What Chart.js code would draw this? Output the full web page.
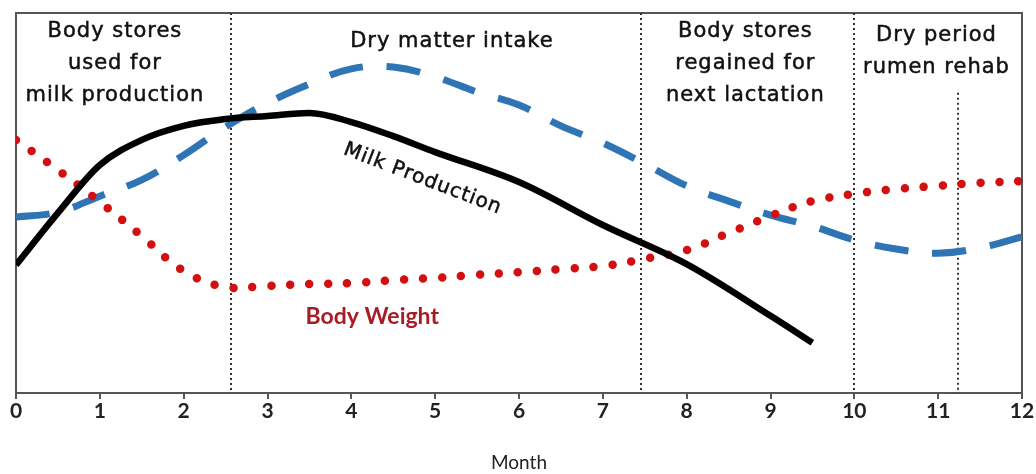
<!DOCTYPE html>
<html>
<head>
<meta charset="utf-8">
<script src="https://cdn.jsdelivr.net/npm/chart.js@4"></script>
<style>
  html, body { margin: 0; padding: 0; background: #fff; overflow: hidden; }
  #wrap { position: relative; width: 1036px; height: 474px; }
</style>
</head>
<body>
<div id="wrap"><canvas id="graficoLactacao"></canvas></div>
<script>
// meses do eixo x
var mesesMilk = [0, 0.5, 1, 1.5, 2, 2.5, 3, 3.5, 4, 4.5, 5, 6, 7, 8, 9, 9.5];
var milkProduction = [33.7, 47.4, 60, 66.6, 70.3, 72.1, 72.9, 73.7, 71.3, 67.6, 63.4, 55.5, 44.2, 33.9, 20.3, 13.2];

var mesesCurva = [0, 0.5, 1, 1.5, 2, 2.5, 3, 3.5, 4, 4.5, 5, 5.5, 6, 6.5, 7, 7.5, 8, 8.5, 9, 9.5, 10, 10.5, 11, 11.5, 12];
var dryMatterIntake = [46.3, 47.6, 51.8, 56.1, 62.6, 70.0, 76.3, 81.3, 85.3, 85.8, 83.2, 79.2, 75.8, 70.3, 65.8, 60.3, 54.5, 50.5, 46.8, 43.9, 40.3, 37.9, 36.8, 38.2, 41.1];
var bodyWeight = [66.6, 58.7, 50.3, 41.3, 32.1, 27.9, 28.2, 28.7, 28.9, 29.7, 30.3, 31.1, 31.8, 32.6, 33.4, 35.3, 37.6, 42.1, 46.6, 50.5, 52.4, 53.7, 54.5, 55.3, 55.8];

var tickMeses = [0, 1, 2, 3, 4, 5, 6, 7, 8, 9, 10, 11, 12];

// divisoes das fases (mes) e ate onde sobem
var divisoes = [2.56, 7.46, 10, 11.24];
var topoDivisoes = [100, 100, 100, 79];

// textos das fases
var fases = [
	{ linhas: ['Body stores', 'used for', 'milk production'], mes: 1.18, y: 95 },
	{ linhas: ['Dry matter intake'], mes: 5.2, y: 92.4 },
	{ linhas: ['Body stores', 'regained for', 'next lactation'], mes: 8.7, y: 95 },
	{ linhas: ['Dry period', 'rumen rehab'], mes: 10.98, y: 94 }
];

function pontos(xs, ys) {
	return xs.map(function(x, i) { return { x: x, y: ys[i] }; });
}

var pluginMoldura = {
	id: 'moldura',
	beforeDatasetsDraw: function(chart) {
		var ctx = chart.ctx, area = chart.chartArea;
		var sx = chart.scales.x, sy = chart.scales.y;
		ctx.save();
		ctx.strokeStyle = '#555';
		ctx.lineWidth = 2;
		ctx.beginPath();
		ctx.moveTo(area.left, area.top);
		ctx.lineTo(area.right, area.top);
		ctx.lineTo(area.right, area.bottom);
		ctx.stroke();

		ctx.strokeStyle = '#333';
		ctx.lineWidth = 2;
		ctx.setLineDash([2, 3]);
		divisoes.forEach(function(m, i) {
			var x = Math.round(sx.getPixelForValue(m));
			ctx.beginPath();
			ctx.moveTo(x, sy.getPixelForValue(topoDivisoes[i]));
			ctx.lineTo(x, area.bottom);
			ctx.stroke();
		});
		ctx.restore();
	},
	afterDatasetsDraw: function(chart) {
		var ctx = chart.ctx;
		var sx = chart.scales.x, sy = chart.scales.y;
		ctx.save();
		ctx.fillStyle = '#111';
		ctx.strokeStyle = '#111';
		ctx.lineWidth = 0.5;
		ctx.font = '21px "DejaVu Sans"';
		ctx.letterSpacing = '1px';
		ctx.textAlign = 'center';
		ctx.textBaseline = 'middle';
		fases.forEach(function(f) {
			var x = sx.getPixelForValue(f.mes);
			var y = sy.getPixelForValue(f.y);
			f.linhas.forEach(function(l, i) {
				ctx.fillText(l, x, y + i * 32);
				ctx.strokeText(l, x, y + i * 32);
			});
		});

		// rotulos das curvas
		ctx.save();
		ctx.translate(sx.getPixelForValue(4.85), sy.getPixelForValue(56.3));
		ctx.rotate(21 * Math.PI / 180);
		ctx.font = '20px "DejaVu Sans"';
		ctx.fillText('Milk Production', 0, 0);
		ctx.strokeText('Milk Production', 0, 0);
		ctx.restore();

		ctx.letterSpacing = '0px';
		ctx.fillStyle = '#a81c26';
		ctx.font = 'bold 23px Lato';
		ctx.fillText('Body Weight', sx.getPixelForValue(4.25), sy.getPixelForValue(20));
		ctx.restore();
	}
};

var ctx = document.getElementById('graficoLactacao').getContext('2d');
var grafico = new Chart(ctx, {
	type: 'line',
	data: {
		datasets: [{
			label: 'Milk Production',
			data: pontos(mesesMilk, milkProduction),
			borderColor: '#000',
			borderWidth: 6.5,
			cubicInterpolationMode: 'monotone',
			pointRadius: 0,
			order: 1
		}, {
			label: 'Body Weight',
			data: pontos(mesesCurva, bodyWeight),
			borderColor: '#d40f0f',
			borderWidth: 8.5,
			borderDash: [0, 19],
			borderCapStyle: 'round',
			tension: 0.4,
			pointRadius: 0,
			order: 2
		}, {
			label: 'Dry matter intake',
			data: pontos(mesesCurva, dryMatterIntake),
			borderColor: '#2f74b5',
			borderWidth: 7,
			borderDash: [34, 24],
			tension: 0.4,
			pointRadius: 0,
			order: 3
		}]
	},
	options: {
		responsive: true,
		maintainAspectRatio: false,
		animation: false,
		layout: { padding: { left: 8, right: 14, top: 13, bottom: 0 } },
		plugins: {
			legend: { display: false },
			tooltip: { enabled: false }
		},
		scales: {
			x: {
				type: 'linear',
				min: 0,
				max: 12,
				afterBuildTicks: function(scale) {
					scale.ticks = tickMeses.map(function(v) { return { value: v }; });
				},
				grid: { display: true, drawOnChartArea: false, drawTicks: true, tickLength: 6, color: '#555', lineWidth: 2 },
				border: { display: true, color: '#555', width: 2 },
				ticks: {
					padding: 0,
					color: '#222',
					font: { family: 'Lato', size: 21, weight: 'bold' },
					maxRotation: 0
				},
				title: {
					display: true,
					text: 'Month',
					color: '#222',
					font: { family: 'Lato', size: 19 },
					padding: { top: 27, bottom: 0 }
				}
			},
			y: {
				min: 0,
				max: 100,
				grid: { display: false },
				border: { display: true, color: '#555', width: 2 },
				ticks: { display: false }
			}
		}
	},
	plugins: [pluginMoldura]
});
</script>
</body>
</html>
